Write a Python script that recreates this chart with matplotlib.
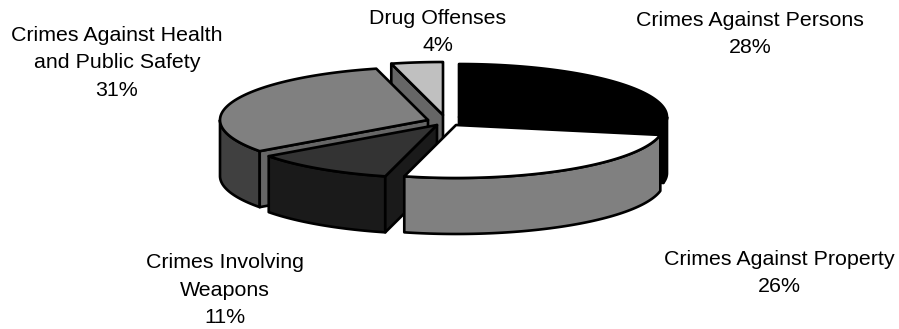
import numpy as np
import matplotlib
matplotlib.use('Agg')
import matplotlib.pyplot as plt
from matplotlib.patches import Polygon

categories = ['Crimes Against Persons', 'Crimes Against Property', 'Crimes Involving\nWeapons',
              'Crimes Against Health\nand Public Safety', 'Drug Offenses']
shares = [28, 26, 11, 31, 4]

top_colors = ['#000000', '#ffffff', '#333333', '#808080', '#c0c0c0']
wall_colors = ['#000000', '#808080', '#1a1a1a', '#404040', '#666666']
cut_colors = ['#000000', '#808080', '#1a1a1a', '#666666', '#666666']

# wedge tips after exploding, in pixels
tips = [(459, 117), (456, 125), (437, 125), (428, 120), (443, 115)]
label_pos = [(750, 34), (779, 273), (225, 290), (117, 63), (438, 32)]

RX, RY = 208, 53
DEPTH = 56

plt.rcParams['font.family'] = ['Liberation Sans', 'DejaVu Sans']

fig = plt.figure(figsize=(8.99, 3.29), dpi=100)
ax = fig.add_axes([0, 0, 1, 1])
ax.set_xlim(0, 899)
ax.set_ylim(329, 0)
ax.axis('off')


def rim(tip, a0, a1):
    t = np.linspace(a0, a1, 80)
    return np.column_stack([tip[0] + RX * np.sin(t), tip[1] - RY * np.cos(t)])


def add_poly(pts, color, z):
    ax.add_patch(Polygon(pts, closed=True, facecolor=color, edgecolor='black',
                         linewidth=1.9, joinstyle='round', zorder=z))


edges = np.concatenate([[0], np.cumsum(shares)]) / sum(shares) * 2 * np.pi
# back slices first so the front ones cover them
order = [4, 0, 3, 2, 1]
for z, i in enumerate(order):
    a0, a1 = edges[i], edges[i + 1]
    tip = tips[i]
    base = z * 10
    down = np.array([0, DEPTH])

    # outer wall, only the part that faces the viewer
    lo, hi = max(a0, np.pi / 2), min(a1, 3 * np.pi / 2)
    if lo < hi:
        arc = rim(tip, lo, hi)
        add_poly(np.vstack([arc, (arc + down)[::-1]]), wall_colors[i], base + 1)

    # flat cut faces, drawn when their outward side points down the screen
    for a, side in ((a0, -1), (a1, 1)):
        if np.sin(a) * side > 1e-6:
            corner = rim(tip, a, a)[0]
            face = [tip, corner, corner + down, np.array(tip) + down]
            add_poly(face, cut_colors[i], base + 2)

    arc = rim(tip, a0, a1)
    add_poly(np.vstack([[tip], arc]), top_colors[i], base + 3)

for name, share, (x, y) in zip(categories, shares, label_pos):
    ax.text(x, y, f'{name}\n{share}%', ha='center', va='center', fontsize=15.4,
            linespacing=1.56, color='black', zorder=100)

fig.savefig('out.png', dpi=100)
